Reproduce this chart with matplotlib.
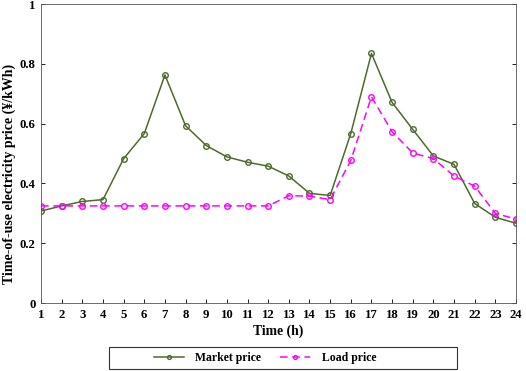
import matplotlib
matplotlib.use("Agg")
import matplotlib.pyplot as plt
from matplotlib.patches import Rectangle

hours = list(range(1, 25))
market_price = [0.308, 0.325, 0.340, 0.346, 0.483, 0.567, 0.763, 0.593, 0.527, 0.489,
                0.471, 0.458, 0.425, 0.367, 0.360, 0.567, 0.835, 0.671, 0.581, 0.492,
                0.464, 0.333, 0.287, 0.267]
load_price = [0.325] * 12 + [0.359, 0.358, 0.346, 0.477, 0.690, 0.573, 0.502, 0.483,
                             0.425, 0.391, 0.300, 0.281]
yticks = [0, 0.2, 0.4, 0.6, 0.8, 1]
ytick_labels = ["0", "0.2", "0.4", "0.6", "0.8", "1"]

plt.rcParams['font.family'] = ['Liberation Serif', 'DejaVu Serif']
plt.rcParams['font.weight'] = 'bold'

fig = plt.figure(figsize=(5.26, 3.71), dpi=100)
ax = fig.add_axes([0.078, 0.183, 0.903, 0.806])

green = '#4d6b2c'
magenta = '#ff00ff'

ax.plot(hours, market_price, '-', color=green, lw=1.1, marker='o', ms=4,
        mfc='none', mec=green, mew=1.0, label='Market price')
ax.plot(hours, load_price, '--', color=magenta, lw=1.1, dashes=(5, 3), marker='o', ms=4,
        mfc='none', mec=magenta, mew=1.0, label='Load price')

ax.set_xlim(1, 24)
ax.set_ylim(0, 1)
ax.set_xticks(hours)
ax.set_xticklabels([str(h) for h in hours], fontsize=9.2, fontweight='bold')
ax.set_yticks(yticks)
ax.set_yticklabels(ytick_labels, fontsize=9.2, fontweight='bold')
ax.tick_params(direction='in', length=3, width=0.6, top=False, right=True, pad=4)
for s in ax.spines.values():
    s.set_linewidth(0.6)
    s.set_color('#555555')

ax.set_xlabel('Time (h)', fontsize=9.8, fontweight='bold', labelpad=3)
ax.set_ylabel('Time-of-use electricity price (\u00a5/kWh)', fontsize=10, fontweight='bold')
ax.yaxis.label.set_va('center')
ax.yaxis.set_label_coords(-0.067, 0.431)

leg = fig.legend(loc='center', bbox_to_anchor=(0.504, 0.034), ncol=2, frameon=False,
                 handlelength=2.5, handletextpad=1.0, columnspacing=1.6,
                 borderpad=0.2, markerscale=0.7,
                 prop={'weight': 'bold', 'size': 8.5})
fig.patches.append(Rectangle((0.207, 0.0054), 0.662, 0.059, transform=fig.transFigure,
                             fill=False, edgecolor='#333333', linewidth=0.8))

fig.savefig('out.png', dpi=100)
